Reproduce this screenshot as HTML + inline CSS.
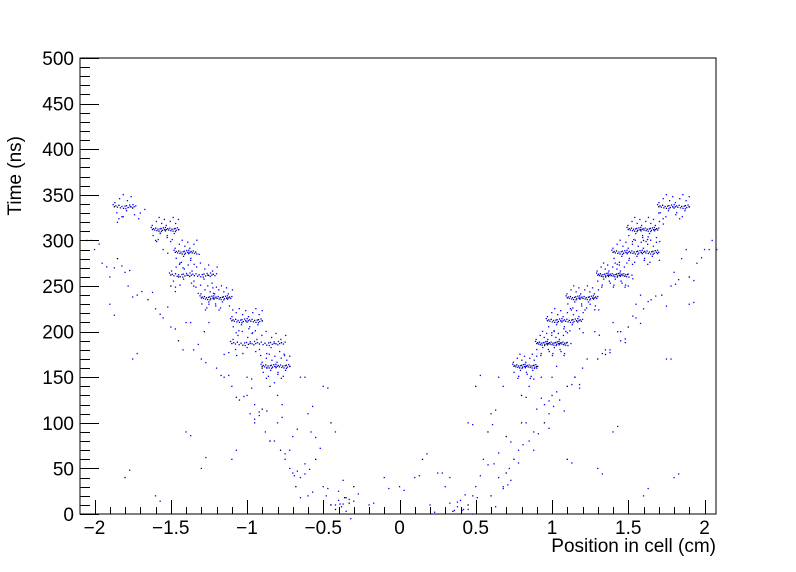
<!DOCTYPE html>
<html><head><meta charset="utf-8"><style>
html,body{margin:0;padding:0;background:#fff;}
svg{display:block;font-family:"Liberation Sans",sans-serif;}
</style></head><body>
<svg id="chart" width="796" height="572" viewBox="0 0 796 572">
<rect x="0" y="0" width="796" height="572" fill="#fff"/>
<rect x="80" y="58" width="636" height="456" fill="none" stroke="#000" stroke-width="1"/>
<g id="points"></g>
<g id="axes"></g>
<text x="716" y="552" text-anchor="end" font-size="19">Position in cell (cm)</text>
<text transform="translate(21,136) rotate(-90)" x="0" y="0" text-anchor="end" font-size="19">Time (ns)</text>
</svg>
<script>
// Horizontal bands (cluster rows)
const bandY  = [162, 187, 212, 237, 262, 287, 312, 337, 162, 187, 212, 237, 262, 287, 312, 337];
const bandX0 = [0.75, 0.9, 0.97, 1.1, 1.3, 1.4, 1.5, 1.7, -0.9, -1.1, -1.1, -1.3, -1.5, -1.47, -1.62, -1.87];
const bandX1 = [0.9, 1.1, 1.2, 1.3, 1.5, 1.7, 1.7, 1.9, -0.72, -0.75, -0.9, -1.1, -1.2, -1.33, -1.45, -1.73];
const bandN  = [25, 35, 30, 30, 35, 40, 30, 25, 25, 30, 25, 30, 30, 20, 25, 15];
// Scattered points
const scatterX = [-2.05,-2.0,-1.95,-1.9,-1.85,-1.8,-1.78,-1.72,-1.65,-1.6,-1.55,-1.5,-1.45,-1.4,-1.35,-1.3,-1.28,-1.2,-1.15,-1.1,-1.05,-1.0,-0.98,-0.95,-0.9,-0.88,-0.85,-0.8,-0.78,-0.75,-0.72,-0.7,-0.68,-0.65,-0.6,-0.58,-0.55,-0.5,-0.48,-0.45,-0.42,-0.4,-0.38,-0.35,-0.33,-1.9,-1.7,-1.6,-1.5,-1.25,-1.0,-0.8,-0.9,-1.75,-1.4,-1.1,-0.3,-0.2,-0.1,-0.6,-1.8,-1.6,-1.3,-0.5,-0.45,-0.65,-1.85,-1.55,-1.45,-1.35,-1.15,-0.95,-0.85,-0.7,-0.62,-0.4,-0.36,
 2.05,2.0,1.95,1.9,1.85,1.8,1.78,1.72,1.65,1.6,1.55,1.5,1.45,1.4,1.35,1.3,1.28,1.2,1.15,1.1,1.05,1.0,0.98,0.95,0.9,0.88,0.85,0.8,0.78,0.75,0.72,0.7,0.68,0.65,0.6,0.58,0.55,0.5,0.48,0.45,0.42,0.4,0.38,0.35,0.33,1.9,1.7,1.6,1.5,1.25,1.0,0.8,0.9,1.75,1.4,1.1,0.3,0.2,0.1,0.6,1.8,1.6,1.3,0.5,0.45,0.65,0.25,0.15,0.0,1.55,1.45,1.35,1.15,0.95,0.85,0.7,0.62];
const scatterY = [300,290,275,260,280,265,250,240,235,225,215,205,190,210,180,170,200,160,150,140,125,130,110,100,115,90,80,100,70,60,50,45,30,40,110,90,60,30,20,10,5,15,8,3,12,230,330,300,250,230,150,130,160,170,90,60,30,10,40,20,40,20,50,140,100,150,320,290,260,250,175,120,140,85,55,25,18,
 300,290,275,260,280,265,250,240,235,225,215,205,190,210,180,170,200,160,150,140,125,130,110,100,115,90,80,100,70,60,50,45,30,40,110,90,60,30,20,10,5,15,8,3,12,230,330,300,250,230,150,130,160,170,90,60,30,10,40,20,40,20,50,140,100,150,45,60,30,230,200,175,150,120,140,85,55];
const xTickLabels = ["−2","−1.5","−1","−0.5","0","0.5","1","1.5","2"];
const xTickVals = [-2,-1.5,-1,-0.5,0,0.5,1,1.5,2];
const yTickVals = [0,50,100,150,200,250,300,350,400,450,500];

const NS="http://www.w3.org/2000/svg";
function sx(v){return 399.5+v*152.5;}
function sy(v){return 514-v*0.912;}
const pg=document.getElementById('points');
function dot(x,y,c){
  const r=document.createElementNS(NS,'rect');
  r.setAttribute('x',(sx(x)-0.6).toFixed(1));
  r.setAttribute('y',(sy(y)-0.6).toFixed(1));
  r.setAttribute('width','1.3');r.setAttribute('height','1.3');
  r.setAttribute('fill',c);
  
  
  pg.appendChild(r);
}
const jit=[0,3,-2,5,-4,1,-6,2,4,-3,6,-1,-5];
for(let b=0;b<bandY.length;b++){
  const n=bandN[b];
  for(let i=0;i<n;i++){
    const x=bandX0[b]+(bandX1[b]-bandX0[b])*i/(n-1);
    dot(x,bandY[b]+jit[i%jit.length]*0.3,(i%3===0)?'#000':'#00f');
    dot(x+0.004*jit[(i+2)%jit.length],bandY[b]+jit[(i+5)%jit.length]*2.2,'#00f');
  }
}
for(let i=0;i<scatterX.length;i++){
  dot(scatterX[i],scatterY[i],(i%4===0)?'#000':'#00f');
  dot(scatterX[i]+0.03,scatterY[i]+jit[i%jit.length]*2,'#00f');
}
const ag=document.getElementById('axes');
function line(x1,y1,x2,y2,name){
  const l=document.createElementNS(NS,'line');
  l.setAttribute('x1',x1);l.setAttribute('y1',y1);l.setAttribute('x2',x2);l.setAttribute('y2',y2);
  l.setAttribute('stroke','#000');l.setAttribute('stroke-width','1');
  
  
  ag.appendChild(l);
}
function text(x,y,s,anchor,name){
  const t=document.createElementNS(NS,'text');
  t.setAttribute('x',x);t.setAttribute('y',y);t.setAttribute('text-anchor',anchor);
  t.setAttribute('font-size','19');t.textContent=s;
  
  
  ag.appendChild(t);
}
for(let k=-20;k<=20;k++){
  const v=k/10, X=Math.round(sx(v))+0.5;
  if(X<80||X>716) continue;
  const major=(k%5===0);
  line(X,514,X,514-(major?14:7),'x-tick');
}
for(let i=0;i<xTickVals.length;i++){
  text(sx(xTickVals[i]),534,xTickLabels[i],'middle','x-tick-label');
}
for(let v=0;v<=500;v+=10){
  const Y=Math.round(sy(v))+0.5;
  line(80,Y,80+(v%50===0?19:10),Y,'y-tick');
}
for(let i=0;i<yTickVals.length;i++){
  text(74,sy(yTickVals[i])+7,String(yTickVals[i]),'end','y-tick-label');
}
</script>
</body></html>
